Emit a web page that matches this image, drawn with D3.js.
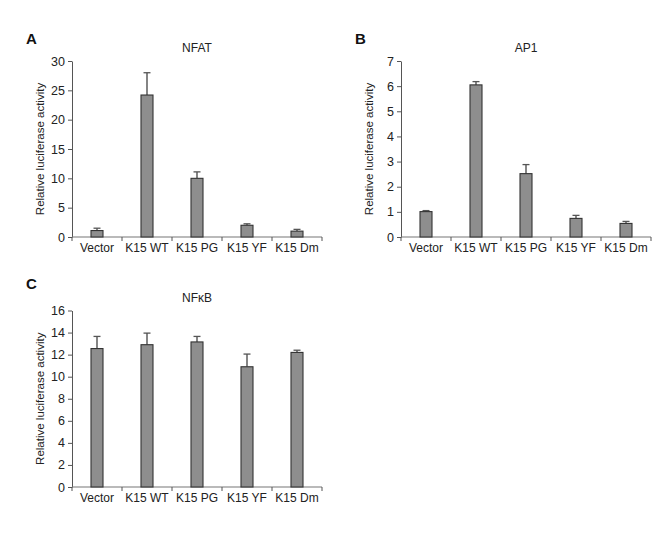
<!DOCTYPE html>
<html><head><meta charset="utf-8">
<script src="https://cdn.jsdelivr.net/npm/d3@7"></script>
<style>body{margin:0;background:#fff;}svg{display:block;font-family:"Liberation Sans",Arial,sans-serif;}</style>
</head><body>
<svg id="c" width="666" height="539"></svg>
<script>
const categories = ["Vector", "K15 WT", "K15 PG", "K15 YF", "K15 Dm"];
const nfatValues = [1.1, 24.2, 10.0, 2.0, 1.0];
const nfatErrors = [0.4, 3.8, 1.1, 0.25, 0.3];
const ap1Values = [1.01, 6.05, 2.52, 0.74, 0.54];
const ap1Errors = [0.04, 0.13, 0.36, 0.12, 0.08];
const nfkbValues = [12.55, 12.9, 13.15, 10.9, 12.2];
const nfkbErrors = [1.1, 1.05, 0.5, 1.15, 0.2];
const nfatTicks = [0, 5, 10, 15, 20, 25, 30];
const ap1Ticks = [0, 1, 2, 3, 4, 5, 6, 7];
const nfkbTicks = [0, 2, 4, 6, 8, 10, 12, 14, 16];

const svg = d3.select("#c");
const W = 250;

function panel(opt) {
  const {letter, title, x0, yTop, yBot, values, errors, ticks, lx, ly} = opt;
  const g = svg.append("g");
  const x = d3.scaleBand().domain(categories).range([x0, x0 + W]);
  const y = d3.scaleLinear().domain([0, d3.max(ticks)]).range([yBot, yTop]);

  g.append("text").attr("x", lx).attr("y", ly).text(letter)
    .attr("font-size", 15).attr("font-weight", "bold").attr("fill", "#111");
  g.append("text").attr("x", x0 + W / 2).attr("y", yTop - 9).text(title)
    .attr("text-anchor", "middle").attr("font-size", 12).attr("fill", "#222");
  g.append("text")
    .attr("transform", `translate(${x0 - 28},${(yTop + yBot) / 2}) rotate(-90)`)
    .attr("text-anchor", "middle").attr("font-size", 11.5).attr("fill", "#222")
    .text("Relative luciferase activity");

  const ya = g.append("g").attr("transform", `translate(${x0},0)`)
    .call(d3.axisLeft(y).tickValues(ticks).tickFormat(d3.format("d")).tickSize(4).tickPadding(3).tickSizeOuter(0));
  ya.select(".domain").attr("stroke", "#555");
  ya.selectAll(".tick line").attr("stroke", "#555");
  ya.selectAll(".tick text").attr("font-size", 12.5).attr("fill", "#222").attr("font-family", "Liberation Sans, Arial, sans-serif");

  g.append("line").attr("x1", x0).attr("x2", x0 + W).attr("y1", yBot).attr("y2", yBot).attr("stroke", "#777").attr("stroke-width", 1.2);
  const bounds = categories.map(c => x(c)).concat([x0 + W]);
  g.selectAll(".xt").data(bounds).join("line")
    .attr("x1", d => d).attr("x2", d => d).attr("y1", yBot).attr("y2", yBot + 4).attr("stroke", "#555");
  g.selectAll(".xl").data(categories).join("text")
    .attr("x", d => x(d) + x.bandwidth() / 2).attr("y", yBot + 15)
    .attr("text-anchor", "middle").attr("font-size", 12).attr("fill", "#222").text(d => d);

  const bw = 12;
  const data = categories.map((c, i) => ({c, v: values[i], e: errors[i]}));
  g.selectAll(".eb").data(data).join("line")
    .attr("x1", d => x(d.c) + x.bandwidth() / 2).attr("x2", d => x(d.c) + x.bandwidth() / 2)
    .attr("y1", d => y(d.v)).attr("y2", d => y(d.v + d.e)).attr("stroke", "#333").attr("stroke-width", 1.2);
  g.selectAll(".ec").data(data).join("line")
    .attr("x1", d => x(d.c) + x.bandwidth() / 2 - 3.5).attr("x2", d => x(d.c) + x.bandwidth() / 2 + 3.5)
    .attr("y1", d => y(d.v + d.e)).attr("y2", d => y(d.v + d.e)).attr("stroke", "#555").attr("stroke-width", 1.3);
  g.selectAll(".bar").data(data).join("rect")
    .attr("x", d => x(d.c) + x.bandwidth() / 2 - bw / 2).attr("width", bw)
    .attr("y", d => y(d.v)).attr("height", d => yBot - y(d.v))
    .attr("fill", "#8e8e8e").attr("stroke", "#333").attr("stroke-width", 1.1);
}

panel({letter: "A", title: "NFAT", x0: 72, yTop: 61, yBot: 237, values: nfatValues, errors: nfatErrors, ticks: nfatTicks, lx: 26, ly: 44});
panel({letter: "B", title: "AP1", x0: 401, yTop: 61, yBot: 237, values: ap1Values, errors: ap1Errors, ticks: ap1Ticks, lx: 355, ly: 44});
panel({letter: "C", title: "NFκB", x0: 72, yTop: 310.5, yBot: 487, values: nfkbValues, errors: nfkbErrors, ticks: nfkbTicks, lx: 26, ly: 289});
</script>
</body></html>
